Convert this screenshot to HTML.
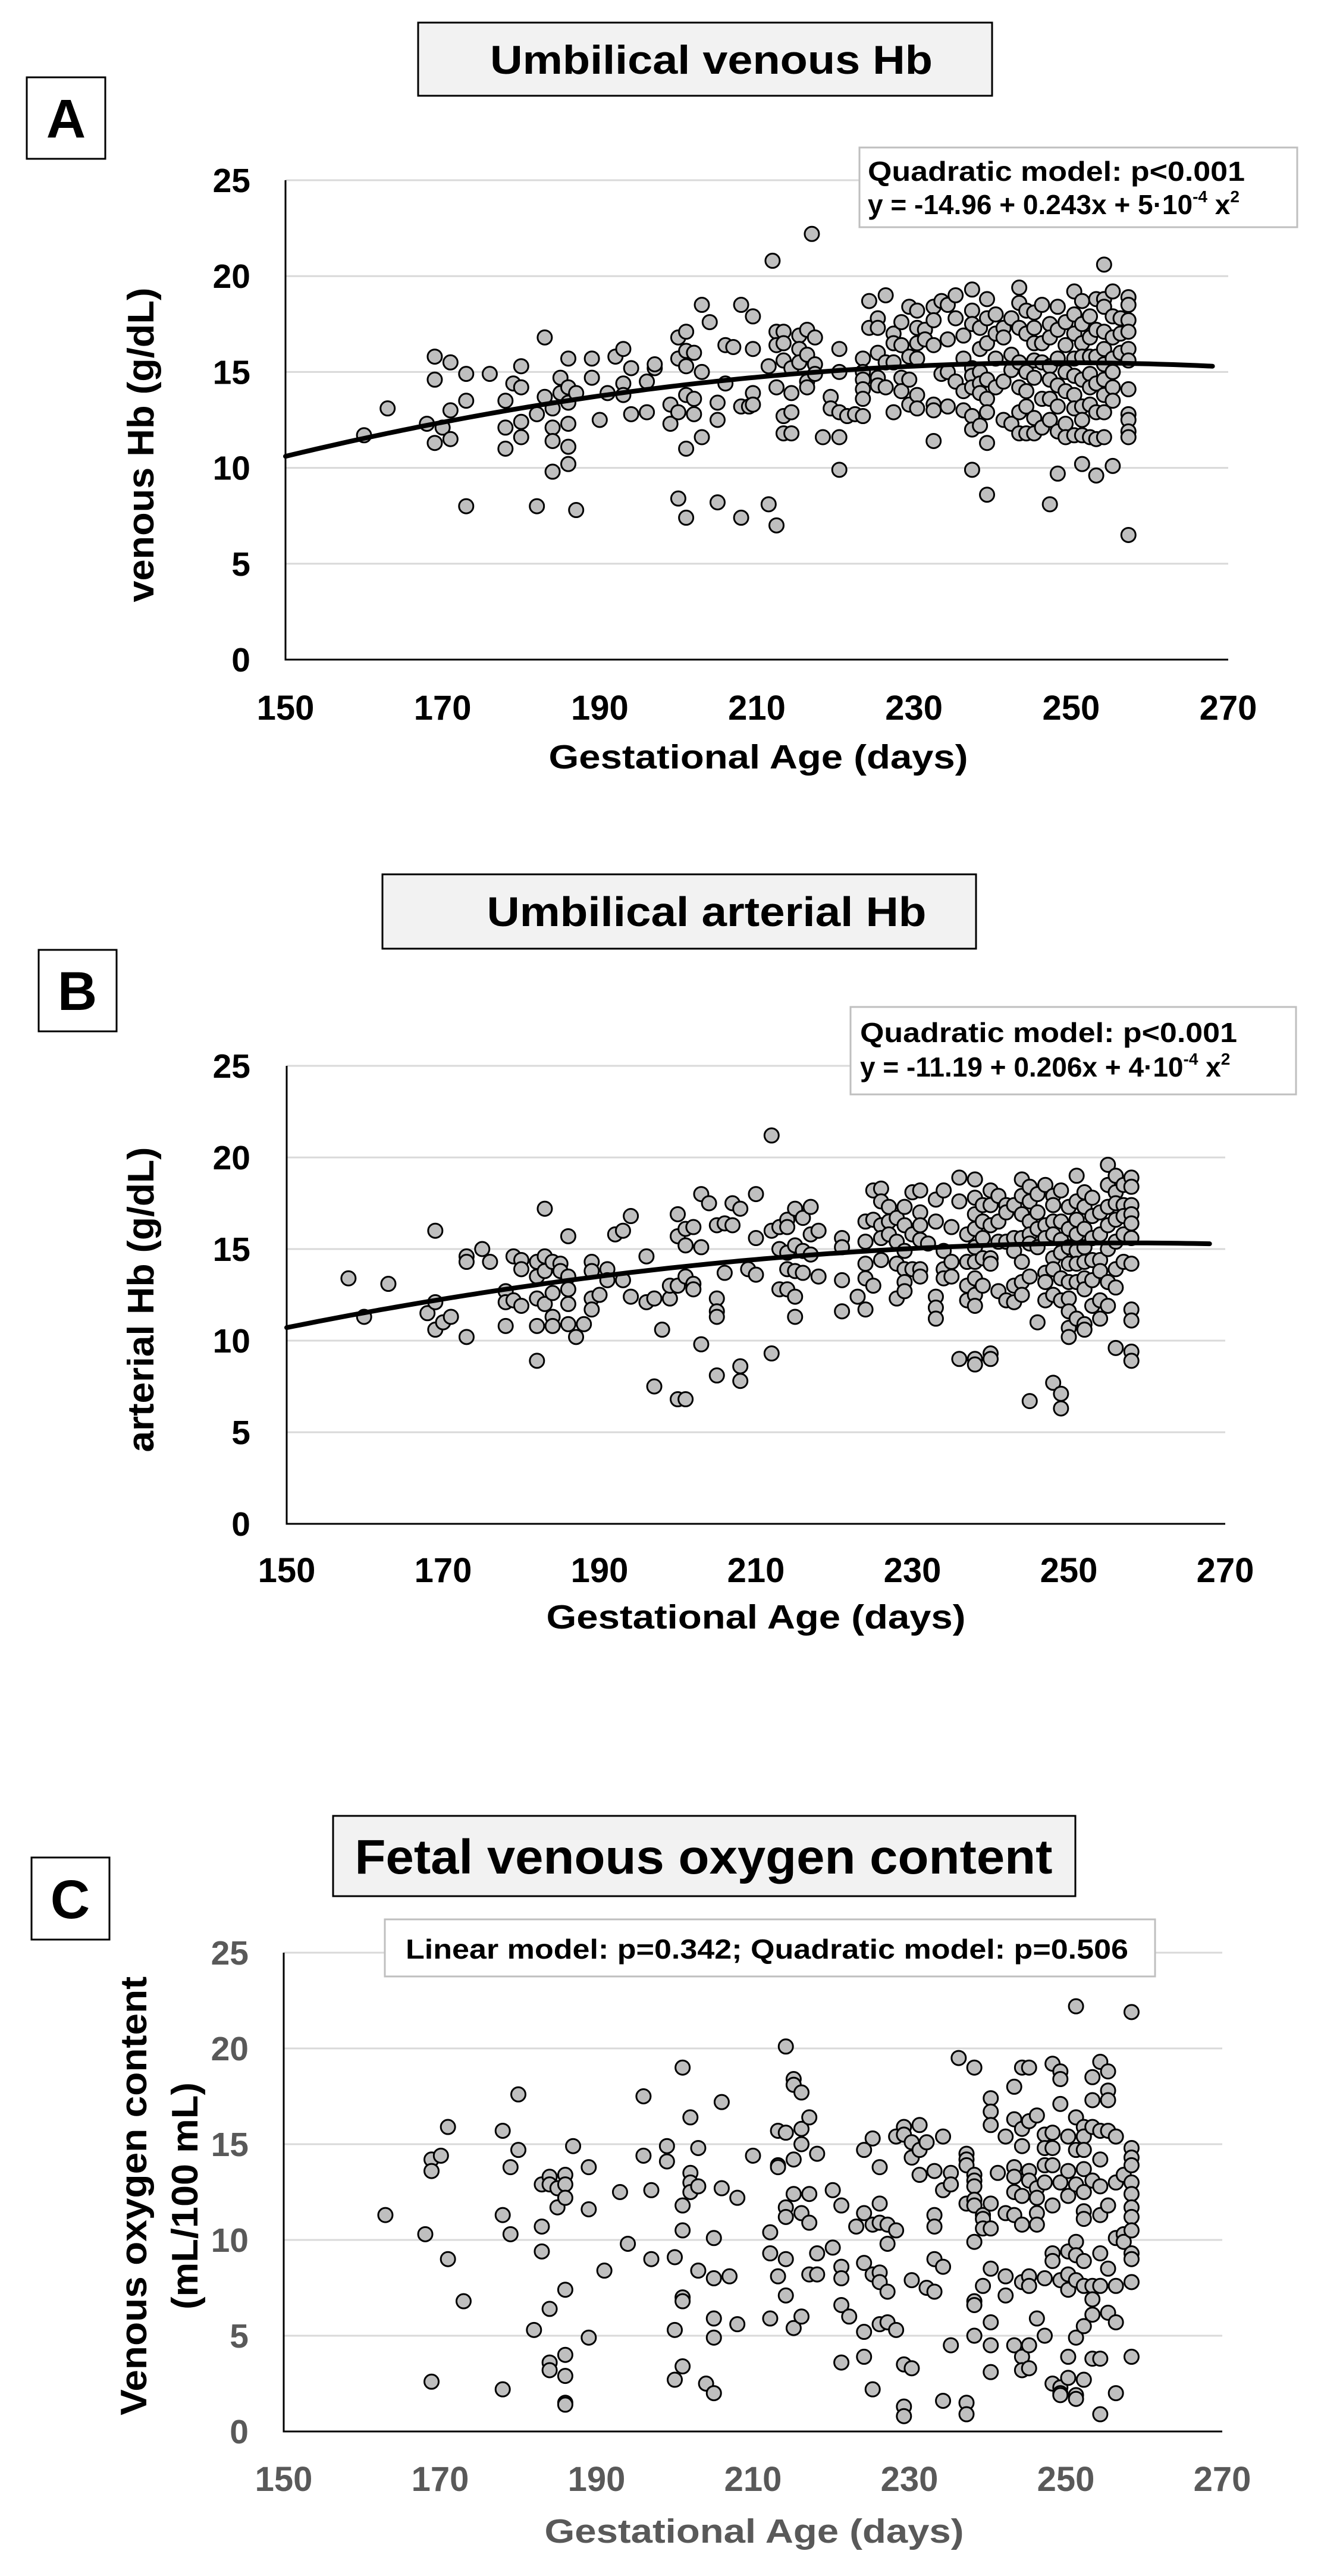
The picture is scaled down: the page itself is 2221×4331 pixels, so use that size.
<!DOCTYPE html>
<html><head><meta charset="utf-8"><title>Umbilical Hb and fetal oxygen content vs gestational age</title>
<style>
html,body{margin:0;padding:0;background:#fff;}
svg{display:block;font-family:"Liberation Sans",Arial,sans-serif;font-weight:bold;}
</style></head>
<body>
<svg id="fig" width="2221" height="4331" viewBox="0 0 2221 4331" xmlns="http://www.w3.org/2000/svg">
<rect x="0" y="0" width="2221" height="4331" fill="#fff"/>

<!-- Panel A static -->
<g>
  <rect x="703" y="38" width="965" height="123" fill="#f2f2f2" stroke="#000" stroke-width="3"/>
  <text x="1196" y="124" font-size="68" text-anchor="middle" textLength="744" lengthAdjust="spacingAndGlyphs">Umbilical venous Hb</text>
  <rect x="45" y="130" width="132" height="137" fill="#fff" stroke="#000" stroke-width="3"/>
  <text x="111" y="231" font-size="92" text-anchor="middle">A</text>
  <g id="plotA"></g>
  <rect x="1445" y="248" width="736" height="134" fill="#fff" stroke="#bfbfbf" stroke-width="3"/>
  <text x="1459" y="304" font-size="46" textLength="634" lengthAdjust="spacingAndGlyphs">Quadratic model: p&lt;0.001</text>
  <text x="1459" y="360" font-size="46">y = -14.96 + 0.243x + 5·10<tspan font-size="28" dy="-20">-4</tspan><tspan dy="20"> x</tspan><tspan font-size="28" dy="-20">2</tspan></text>
  <text x="1275" y="1292" font-size="57" text-anchor="middle" textLength="705" lengthAdjust="spacingAndGlyphs">Gestational Age (days)</text>
  <text transform="translate(258,748) rotate(-90)" font-size="62" text-anchor="middle" textLength="529" lengthAdjust="spacingAndGlyphs">venous Hb (g/dL)</text>
</g>

<!-- Panel B static -->
<g>
  <rect x="643" y="1470" width="998" height="125" fill="#f2f2f2" stroke="#000" stroke-width="3"/>
  <text x="1188" y="1557" font-size="70" text-anchor="middle" textLength="739" lengthAdjust="spacingAndGlyphs">Umbilical arterial Hb</text>
  <rect x="65" y="1597" width="131" height="137" fill="#fff" stroke="#000" stroke-width="3"/>
  <text x="130" y="1698" font-size="92" text-anchor="middle">B</text>
  <g id="plotB"></g>
  <rect x="1430" y="1693" width="749" height="147" fill="#fff" stroke="#bfbfbf" stroke-width="3"/>
  <text x="1446" y="1752" font-size="46" textLength="634" lengthAdjust="spacingAndGlyphs">Quadratic model:  p&lt;0.001</text>
  <text x="1446" y="1810" font-size="46">y = -11.19 + 0.206x + 4·10<tspan font-size="28" dy="-20">-4</tspan><tspan dy="20"> x</tspan><tspan font-size="28" dy="-20">2</tspan></text>
  <text x="1271" y="2738" font-size="57" text-anchor="middle" textLength="705" lengthAdjust="spacingAndGlyphs">Gestational Age (days)</text>
  <text transform="translate(258,2185) rotate(-90)" font-size="62" text-anchor="middle" textLength="513" lengthAdjust="spacingAndGlyphs">arterial Hb (g/dL)</text>
</g>

<!-- Panel C static -->
<g>
  <rect x="560" y="3053" width="1248" height="135" fill="#f2f2f2" stroke="#000" stroke-width="3"/>
  <text x="1183" y="3150" font-size="82" text-anchor="middle" textLength="1173" lengthAdjust="spacingAndGlyphs">Fetal venous oxygen content</text>
  <rect x="53" y="3123" width="131" height="138" fill="#fff" stroke="#000" stroke-width="3"/>
  <text x="118" y="3225" font-size="92" text-anchor="middle">C</text>
  <g id="plotC"></g>
  <rect x="647" y="3227" width="1295" height="96" fill="#fff" stroke="#bfbfbf" stroke-width="3"/>
  <text x="682" y="3293" font-size="46" textLength="1215" lengthAdjust="spacingAndGlyphs">Linear model: p=0.342; Quadratic model: p=0.506</text>
  <text x="1268" y="4275" font-size="57" fill="#595959" text-anchor="middle" textLength="705" lengthAdjust="spacingAndGlyphs">Gestational Age (days)</text>
  <text transform="translate(246,3692) rotate(-90)" font-size="62" text-anchor="middle" textLength="738" lengthAdjust="spacingAndGlyphs">Venous oxygen content</text>
  <text transform="translate(332,3692) rotate(-90)" font-size="62" text-anchor="middle" textLength="382" lengthAdjust="spacingAndGlyphs">(mL/100 mL)</text>
</g>
</svg>

<script>
// ---- shared axis data ----
const xTicks = [150, 170, 190, 210, 230, 250, 270];
const yTicks = [0, 5, 10, 15, 20, 25];

// ---- Panel A: umbilical venous Hb ----
const aDays = [160,163,168,169,169,169,170,171,171,171,173,173,173,176,178,178,178,179,180,180,180,180,182,182,183,183,184,184,184,184,185,185,186,186,186,186,186,186,187,187,189,189,190,191,192,193,193,193,194,194,196,196,197,197,199,199,200,200,200,200,201,201,201,201,201,201,202,202,202,203,203,203,204,205,205,205,206,206,207,208,208,208,209,
209.5,209.5,209.5,209.5,211.5,211.5,212,212.5,212.5,212.5,212.5,213.4,213.4,213.4,213.4,213.4,214.4,214.4,214.4,214.4,215.4,215.4,215.4,216.4,216.4,216.4,216.4,217,217.4,217.4,217.4,218.4,219.4,219.4,220.5,220.5,220.5,220.5,220.5,221.5,222.5,
223.5,223.5,223.5,223.5,223.5,223.5,224.3,224.3,225.4,225.4,225.4,225.4,225.4,226.4,226.4,226.4,227.4,227.4,227.4,227.4,228.4,228.4,228.4,228.4,229.4,229.4,229.4,229.4,230.4,230.4,230.4,230.4,230.4,230.4,231.4,231.4,
232.5,232.5,232.5,232.5,232.5,232.5,233.5,233.5,234.3,234.3,234.3,234.3,235.3,235.3,235.3,236.3,236.3,236.3,236.3,237.4,237.4,237.4,237.4,237.4,237.4,237.4,237.4,237.4,238.4,238.4,238.4,238.4,238.4,238.4,
239.3,239.3,239.3,239.3,239.3,239.3,239.3,239.3,240.4,240.4,240.4,240.4,241.4,241.4,241.4,241.4,242.4,242.4,242.4,242.4,243.4,243.4,243.4,243.4,243.4,243.4,243.4,244.3,244.3,244.3,244.3,244.3,244.3,
245.3,245.3,245.3,245.3,245.3,245.3,245.3,246.3,246.3,246.3,246.3,246.3,247.3,247.3,247.3,247.3,247.3,247.3,247.3,248.3,248.3,248.3,248.3,248.3,248.3,248.3,249.3,249.3,249.3,249.3,249.3,249.3,
250.4,250.4,250.4,250.4,250.4,250.4,250.4,250.4,251.4,251.4,251.4,251.4,251.4,251.4,251.4,251.4,251.4,252.4,252.4,252.4,252.4,252.4,252.4,252.4,253.2,253.2,253.2,253.2,253.2,253.2,253.2,
254.2,254.2,254.2,254.2,254.2,254.2,254.2,254.2,254.2,254.2,255.3,255.3,255.3,255.3,255.3,255.3,255.3,255.3,256.3,256.3,256.3,257.3,257.3,257.3,257.3,257.3,257.3,257.3,257.3,257.3,257.3,257.3,257.3];
const aHb = [11.7,13.1,12.3,15.8,14.6,11.3,12.1,15.5,13.0,11.5,14.9,13.5,8.0,14.9,13.5,12.1,11.0,14.4,15.3,14.2,12.4,11.6,12.8,8.0,16.8,13.7,12.1,13.1,11.4,9.8,14.7,13.9,15.7,14.2,13.4,12.3,11.1,10.2,13.9,7.8,15.7,14.7,12.5,13.9,15.8,16.2,14.4,13.8,15.2,12.8,14.5,12.9,15.2,15.4,12.3,13.3,16.8,15.7,12.9,8.4,17.1,16.1,15.3,13.8,11.0,7.4,16.0,13.6,12.8,18.5,15.0,11.6,17.6,13.4,12.5,8.2,16.4,14.4,16.3,18.5,13.2,7.4,13.2,
17.9,16.2,13.9,13.3,15.3,8.1,20.8,17.1,16.4,14.2,7.0,17.1,16.5,15.6,12.7,11.8,15.2,13.9,12.9,11.8,16.9,16.2,15.5,17.2,15.9,14.5,14.2,22.2,16.8,15.4,14.9,11.6,13.7,13.1,16.2,15.0,12.9,11.6,9.9,12.7,12.8,
15.7,15.0,14.6,14.1,13.6,12.7,18.7,17.3,17.8,17.3,16.0,14.7,14.3,19.0,15.5,14.2,17.0,16.5,15.5,12.9,17.6,16.4,14.7,14.0,18.4,15.8,14.6,13.3,18.2,17.3,16.5,15.7,13.8,13.1,17.2,16.7,
18.4,17.7,16.4,13.3,13.0,11.4,18.7,14.9,18.5,16.7,15.0,13.2,19.0,17.8,14.5,16.9,15.7,14.0,13.0,19.3,18.2,17.5,15.2,14.8,14.2,12.7,12.0,9.9,17.3,16.2,15.0,14.4,13.9,12.2,
18.8,17.8,16.5,14.6,13.6,12.9,11.3,8.6,18.0,17.0,15.7,14.2,17.3,16.8,14.5,12.5,17.8,15.9,15.1,12.3,19.4,18.6,17.3,15.5,14.2,12.9,11.8,18.2,17.0,15.0,14.0,13.2,11.8,
18.1,17.3,16.5,15.6,14.7,12.6,11.8,18.5,16.5,15.5,13.6,12.1,17.5,16.8,15.3,14.6,13.6,12.5,8.1,18.4,17.2,15.7,14.3,13.2,11.9,9.7,17.6,16.4,15.0,14.0,12.3,11.6,
19.2,18.0,17.0,15.7,14.8,13.8,13.1,11.7,18.7,17.5,16.5,15.8,14.6,13.2,12.5,11.7,10.2,17.9,16.8,15.8,14.9,14.2,13.3,11.6,18.8,17.2,15.8,14.4,12.9,11.5,9.6,
20.6,18.8,18.4,17.1,16.2,15.4,14.6,13.8,12.9,11.6,19.2,17.9,16.8,15.7,15.0,14.2,13.5,10.1,17.8,17.0,16.0,18.9,18.5,17.7,17.1,16.2,15.6,14.1,12.8,12.5,11.9,11.6,6.5];
const aCurveCoef = [-15.43, 0.2484, -0.000499];

// ---- Panel B: umbilical arterial Hb ----
const bDays = [157.9,159.9,163,168,169,169,169,170,171,173,173,173,175,176,178,178,178,179,179,180,180,180,182,182,182,182,182,183,183,183,183,184,184,184,184,185,185,186,186,186,186,186,187,188,189,189,189,189,190,191,191,192,193,193,194,194,196,196,197,197,198,199,199,200,200,200,200,201,201,201,201,202,202,202,203,203,203,204,205,205,205,205,205,206,206,207,207,208,208,208,209,210,210,210,212,212,212,213,213,213,214,214,214,214,214,215,215,215,215,215,216,216,216,217,217,217,218,218,
221,221,221,221,223,224,224,224,224,224,225,225,225,226,226,226,226,226,227,227,227,228,228,228,228,229,229,229,229,229,229,230,230,230,231,231,231,231,231,231,232,233,233,233,233,233,234,234,234,234,235,235,235,236,236,236,237,237,237,237,
238,238,238,238,238,238,238,238,238,238,238,239,239,239,239,239,240,240,240,240,240,240,240,241,241,241,241,242,242,242,242,243,243,243,243,243,244,244,244,244,244,244,244,245,245,245,245,245,245,245,246,246,246,246,246,247,247,247,247,247,247,
248,248,248,248,248,248,248,248,249,249,249,249,249,249,249,249,250,250,250,250,250,250,250,250,250,251,251,251,251,251,251,251,251,252,252,252,252,252,252,252,252,252,253,253,253,253,253,253,254,254,254,254,254,254,255,255,255,255,255,255,255,256,256,256,256,256,256,256,256,257,257,257,257,257,258,258,258,258,258,258,258,258,258,258,258];
const bHb = [13.4,11.3,13.1,11.5,16.0,12.1,10.6,11.0,11.3,14.6,14.3,10.2,15.0,14.3,12.7,12.1,10.8,14.6,12.2,14.4,13.9,11.9,14.3,13.5,12.3,10.8,8.9,17.2,14.6,13.8,12.0,14.3,12.6,11.3,10.8,14.2,13.8,15.7,13.5,12.8,12.0,10.9,10.2,10.9,14.3,13.8,12.3,11.7,12.5,13.9,13.3,15.8,16.0,13.3,16.8,12.4,14.6,12.1,12.3,7.5,10.6,12.3,13.0,16.9,15.7,13.0,6.8,16.1,15.2,13.5,6.8,16.2,13.1,12.8,18.0,15.1,9.8,17.5,16.3,12.3,11.6,11.3,8.1,16.4,13.7,17.5,16.3,17.2,8.6,7.8,13.9,18.0,15.6,13.6,21.2,16.0,9.3,16.2,15.0,12.8,16.6,16.2,14.8,13.9,12.8,17.2,15.2,13.8,12.4,11.3,16.7,14.9,13.7,17.3,15.8,14.7,16.0,13.5,
15.6,15.1,13.3,11.6,12.4,16.5,15.4,14.2,13.4,11.7,18.2,16.6,13.0,18.3,17.6,16.3,15.6,14.4,17.3,16.5,15.8,16.7,15.4,14.2,12.3,17.3,16.3,14.9,13.9,13.2,12.7,18.1,15.8,13.9,18.2,17.0,16.3,15.5,13.9,13.5,15.3,17.7,16.5,12.4,11.8,11.2,18.2,14.9,13.9,13.4,16.2,14.3,13.5,18.9,17.6,9.0,15.8,14.3,13.0,12.2,
18.8,17.8,16.9,16.1,15.1,14.3,13.4,12.5,11.9,9.0,8.7,17.4,16.5,15.6,14.5,13.0,18.2,17.4,16.3,14.5,14.2,9.3,9.0,17.9,16.5,15.4,12.7,17.4,17.0,15.4,12.2,17.4,15.6,14.9,13.0,12.1,18.8,17.9,16.9,15.6,14.3,13.2,12.5,18.4,17.6,16.5,15.8,15.3,13.5,6.7,18.0,17.0,16.1,15.1,11.0,18.5,16.3,15.6,13.7,13.2,12.2,
17.9,17.4,16.5,15.8,14.5,13.9,12.5,7.7,18.2,16.5,15.5,14.8,13.4,12.2,7.1,6.3,17.3,16.1,15.1,14.2,13.2,12.3,11.6,10.7,10.2,19.0,17.6,16.6,15.8,14.9,14.2,13.2,11.2,18.1,17.3,16.1,15.1,14.3,13.4,12.8,10.9,10.6,17.8,16.8,15.6,14.4,13.3,11.9,17.0,15.8,14.4,13.8,12.2,11.2,19.6,18.5,17.3,16.3,15.0,13.2,11.9,19.0,18.1,17.5,16.6,15.4,13.9,12.9,9.6,18.5,17.4,16.8,15.8,14.3,18.9,18.4,17.4,16.9,16.4,15.6,14.2,11.7,11.1,9.4,8.9];
const bCurveCoef = [-11.19, 0.206, -0.0004];

// ---- Panel C: fetal venous oxygen content ----
const cDays = [163,168.1,168.9,168.9,168.9,170.1,171,171,173,178,178,178,179,179,180,180,182,183,183,183,184,184,184,184,184,185,185,186,186,186,186,186,186,186,186,187,189,189,189,191,193,194,196,196,197,197,199,199,200,200,200,201,201,201,201,201,201,202,202,202,202,203,203,203,204,205,205,205,205,205,206,206,207,208,208,210,
212.2,212.2,212.2,213.2,213.2,213.2,213.2,214.2,214.2,214.2,214.2,214.2,214.2,215.2,215.2,215.2,215.2,215.2,216.2,216.2,216.2,216.2,216.2,217.2,217.2,217.2,217.2,218.2,218.2,218.2,220.2,220.2,221.3,221.3,221.3,221.3,221.3,222.3,223.2,224.2,224.2,224.2,224.2,224.2,225.3,225.3,225.3,225.3,226.2,226.2,226.2,226.2,226.2,226.2,227.2,227.2,227.2,227.2,228.3,228.3,228.3,229.3,229.3,229.3,229.3,229.3,230.3,230.3,230.3,230.3,231.3,231.3,231.3,232.2,232.2,233.2,233.2,233.2,233.2,233.2,234.3,234.3,234.3,234.3,235.3,235.3,235.3,236.3,
237.3,237.3,237.3,237.3,237.3,237.3,238.3,238.3,238.3,238.3,238.3,238.3,238.3,238.3,238.3,238.3,239.4,239.4,239.4,239.4,240.4,240.4,240.4,240.4,240.4,240.4,240.4,240.4,240.4,241.3,242.3,242.3,242.3,242.3,243.4,243.4,243.4,243.4,243.4,243.4,243.4,244.4,244.4,244.4,244.4,244.4,244.4,244.4,244.4,245.3,245.3,245.3,245.3,245.3,245.3,245.3,245.3,246.3,246.3,246.3,246.3,246.3,246.3,247.3,247.3,247.3,247.3,247.3,247.3,
248.3,248.3,248.3,248.3,248.3,248.3,248.3,248.3,249.3,249.3,249.3,249.3,249.3,249.3,249.3,249.3,250.3,250.3,250.3,250.3,250.3,250.3,250.3,250.3,251.3,251.3,251.3,251.3,251.3,251.3,251.3,251.3,251.3,251.3,252.3,252.3,252.3,252.3,252.3,252.3,252.3,252.3,252.3,252.3,252.3,
253.4,253.4,253.4,253.4,253.4,253.4,253.4,253.4,254.4,254.4,254.4,254.4,254.4,254.4,254.4,254.4,254.4,255.4,255.4,255.4,255.4,255.4,255.4,255.4,256.4,256.4,256.4,256.4,256.4,256.4,257.4,257.4,257.4,258.4,258.4,258.4,258.4,258.4,258.4,258.4,258.4,258.4,258.4,258.4,258.4,258.4];
const cO2 = [11.3,10.3,14.2,13.6,2.6,14.4,15.9,9.0,6.8,15.7,11.3,2.2,13.8,10.3,17.6,14.7,5.3,10.7,9.4,12.9,13.3,6.4,3.6,3.2,12.9,12.7,11.7,13.4,12.9,12.2,7.4,4.0,2.9,1.5,1.4,14.9,13.8,11.6,4.9,8.4,12.5,9.8,17.5,14.4,12.6,9.0,14.9,14.1,9.1,5.3,2.7,19.0,11.8,10.5,7.0,6.8,3.4,16.4,13.5,13.0,12.5,14.8,12.8,8.4,2.5,10.1,8.0,5.9,4.9,2.0,17.2,12.7,8.1,12.2,5.6,14.4,
10.4,9.3,5.9,15.7,13.9,13.8,8.1,20.1,15.6,11.7,11.2,9.0,7.1,18.4,18.1,14.2,12.4,5.4,17.7,15.8,15.0,11.4,6.0,16.4,12.4,10.9,8.2,14.5,9.3,8.2,12.6,9.6,11.8,8.6,8.0,6.6,3.6,6.0,10.7,14.7,11.4,8.8,5.2,3.9,15.3,10.8,8.2,2.2,13.8,11.9,10.9,8.3,7.8,5.6,10.8,9.8,7.3,5.7,15.4,10.5,5.3,15.9,15.5,3.5,1.3,0.8,15.1,14.3,7.9,3.3,16.0,13.4,14.7,15.1,7.5,13.6,11.3,10.7,9.0,7.3,15.4,12.6,8.6,1.6,13.5,12.9,4.5,19.5,
14.5,14.2,13.9,11.9,1.5,0.9,19.0,13.4,13.1,12.8,12.1,11.8,9.9,6.8,6.6,5.0,11.3,11.1,10.6,7.6,17.4,16.7,16.0,11.9,10.6,8.5,5.7,4.5,3.1,13.5,15.4,11.4,8.1,7.1,18.0,16.3,13.8,13.3,12.5,11.3,4.5,19.0,15.8,14.9,12.3,10.8,7.8,3.9,3.2,19.0,16.2,13.6,13.1,8.1,7.6,4.5,3.3,16.5,12.7,12.2,11.4,10.8,5.9,15.5,14.8,13.9,13.0,8.0,5.0,
19.2,15.6,14.8,13.9,11.8,9.3,8.9,2.5,18.8,18.4,17.1,13.0,7.9,2.3,2.0,1.9,15.4,13.6,12.3,9.4,8.2,7.4,3.9,2.8,22.2,16.4,14.7,12.9,9.9,9.2,7.9,4.9,1.9,1.7,15.9,15.4,14.7,13.7,12.5,11.5,11.1,8.9,7.6,5.5,2.7,
18.5,17.3,15.9,13.1,7.6,6.9,6.1,3.8,19.3,15.7,14.2,12.8,11.3,9.3,7.6,3.8,0.9,18.8,17.8,17.3,15.7,11.8,8.5,6.2,15.4,13.0,10.1,7.6,5.7,2.0,13.4,10.3,9.9,21.9,14.8,14.3,13.9,13.0,12.4,11.7,11.2,10.5,9.3,9.0,7.8,3.9];

// ---- drawing helpers ----
const NS = 'http://www.w3.org/2000/svg';
function mk(tag, attrs) {
  const el = document.createElementNS(NS, tag);
  for (const k in attrs) el.setAttribute(k, attrs[k]);
  return el;
}

function drawPanel(gId, cfg, days, vals, coef) {
  const g = document.getElementById(gId);
  const xS = d => cfg.x0 + (d - 150) / 120 * (cfg.x1 - cfg.x0);
  const yS = v => cfg.y0 - v / 25 * (cfg.y0 - cfg.y25);

  yTicks.forEach(t => {
    if (t === 0) return;
    const ln = mk('line', {x1: xS(150), x2: xS(270), y1: yS(t), y2: yS(t), stroke: '#d9d9d9', 'stroke-width': 3});
    
    
    g.appendChild(ln);
  });
  yTicks.forEach(t => {
    const tx = mk('text', {x: cfg.yLabelX, y: yS(t) + 20, 'text-anchor': 'end', 'font-size': 57, fill: cfg.tickColor});
    tx.textContent = t;
    
    
    g.appendChild(tx);
  });
  xTicks.forEach(t => {
    const tx = mk('text', {x: xS(t), y: cfg.xLabelY, 'text-anchor': 'middle', 'font-size': 58, fill: cfg.tickColor});
    tx.textContent = t;
    
    
    g.appendChild(tx);
  });
  const ya = mk('line', {x1: xS(150), x2: xS(150), y1: yS(25), y2: yS(0) + 1.5, stroke: '#000', 'stroke-width': 3});
  
  
  g.appendChild(ya);
  const xa = mk('line', {x1: xS(150) - 1.5, x2: xS(270), y1: yS(0), y2: yS(0), stroke: '#000', 'stroke-width': 3});
  
  
  g.appendChild(xa);

  const pg = mk('g', {});
  
  
  g.appendChild(pg);
  for (let i = 0; i < days.length; i++) {
    const c = mk('circle', {cx: xS(days[i]), cy: yS(vals[i]), r: 12, fill: '#bfbfbf', stroke: '#000', 'stroke-width': 3});
    
    
    pg.appendChild(c);
  }

  if (coef) {
    let d = '';
    for (let x = 150; x <= 268; x += 1) {
      const v = coef[0] + coef[1] * x + coef[2] * x * x;
      d += (x === 150 ? 'M' : 'L') + xS(x).toFixed(1) + ',' + yS(v).toFixed(1);
    }
    const p = mk('path', {d: d, fill: 'none', stroke: '#000', 'stroke-width': 8, 'stroke-linecap': 'round', 'stroke-linejoin': 'round'});
    
    
    g.appendChild(p);
  }
}

drawPanel('plotA', {x0: 480, x1: 2065, y0: 1109, y25: 303, yLabelX: 421, xLabelY: 1210, tickColor: '#000'}, aDays, aHb, aCurveCoef);
drawPanel('plotB', {x0: 482, x1: 2060, y0: 2562, y25: 1792, yLabelX: 421, xLabelY: 2660, tickColor: '#000'}, bDays, bHb, bCurveCoef);
drawPanel('plotC', {x0: 477, x1: 2055, y0: 4088, y25: 3283, yLabelX: 418, xLabelY: 4188, tickColor: '#595959'}, cDays, cO2, null);
</script>
</body></html>
